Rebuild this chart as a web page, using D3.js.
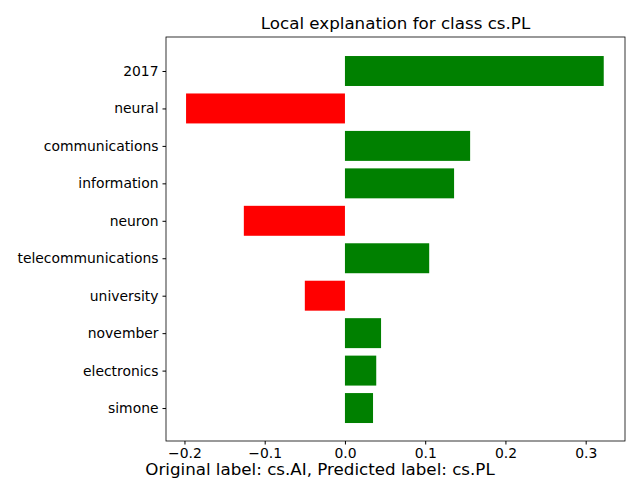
<!DOCTYPE html>
<html><head><meta charset="utf-8">
<script src="https://cdn.jsdelivr.net/npm/d3@7"></script>
<style>body{margin:0;background:#fff}text{font-family:"DejaVu Sans",sans-serif}</style>
</head><body>
<svg id="chart" width="640" height="480"></svg>
<script>
var features = ["2017","neural","communications","information","neuron","telecommunications","university","november","electronics","simone"];
var weights = [0.3225,-0.198,0.156,0.136,-0.126,0.105,-0.050,0.045,0.039,0.035];
var xTicks = [-0.2,-0.1,0,0.1,0.2,0.3];

var svg = d3.select("#chart");
var plotLeft = 166, plotRight = 625, plotTop = 37, plotBottom = 441;

var x = d3.scaleLinear().domain([-0.223,0.349]).range([plotLeft,plotRight]);
var y = d3.scaleLinear().domain([-0.908,9.88]).range([plotTop,plotBottom]);

svg.selectAll(".bar").data(weights).enter().append("rect")
	.attr("x", function(d){ return x(Math.min(0,d)); })
	.attr("width", function(d){ return Math.abs(x(d)-x(0)); })
	.attr("y", function(d,i){ return y(i-0.4); })
	.attr("height", y(0.8)-y(0))
	.attr("fill", function(d){ return d > 0 ? "green" : "red"; });

svg.append("g").attr("transform","translate(0,"+plotBottom+")")
	.call(d3.axisBottom(x).tickValues(xTicks).tickSize(3.5).tickPadding(4)
		.tickFormat(function(d){ return d === 0 ? "0.0" : d3.format(".1f")(d).replace("-","\u2212"); }))
	.call(function(g){ g.select(".domain").remove(); g.selectAll("text").attr("font-size","13.9px").attr("fill","#000"); });

svg.append("g").attr("transform","translate("+plotLeft+",0)")
	.call(d3.axisLeft(y).tickValues(d3.range(features.length)).tickSize(3.5).tickPadding(4)
		.tickFormat(function(i){ return features[i]; }))
	.call(function(g){ g.select(".domain").remove(); g.selectAll("text").attr("font-size","13.9px").attr("fill","#000"); });

svg.append("rect").attr("x",plotLeft).attr("y",plotTop).attr("width",plotRight-plotLeft).attr("height",plotBottom-plotTop)
	.attr("fill","none").attr("stroke","#000").attr("stroke-width",0.8);

svg.append("text").attr("x",(plotLeft+plotRight)/2).attr("y",29).attr("text-anchor","middle")
	.attr("font-size","16.7px").text("Local explanation for class cs.PL");

svg.append("text").attr("x",320).attr("y",475).attr("text-anchor","middle")
	.attr("font-size","16.7px").text("Original label: cs.AI, Predicted label: cs.PL");
</script>
</body></html>
